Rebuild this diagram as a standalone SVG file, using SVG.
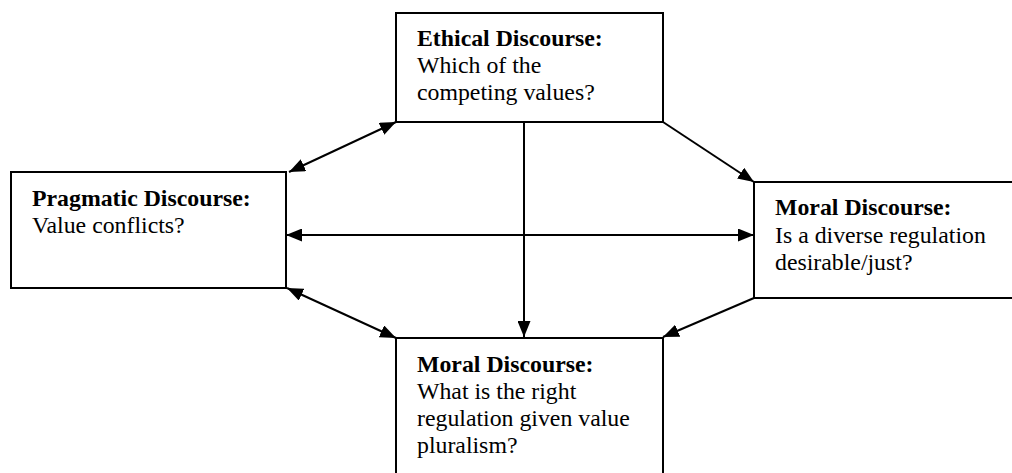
<svg xmlns="http://www.w3.org/2000/svg" width="1012" height="473" viewBox="0 0 1012 473">
<style>
.box{fill:#fff;stroke:#000;stroke-width:2}
.t{font-family:"Liberation Serif","Times New Roman",serif;font-size:23.8px;fill:#000}
.b{font-weight:bold}
.c{stroke:#000;stroke-width:2;fill:none}
</style>
<defs>
<marker id="ah" markerUnits="userSpaceOnUse" markerWidth="16" markerHeight="13" refX="16" refY="6.5" orient="auto-start-reverse">
<path d="M0,0 L16,6.5 L0,13 z" fill="#000"/>
</marker>
</defs>
<rect width="1012" height="473" fill="#fff"/>
<g id="connectors">
<line class="c" x1="289" y1="172" x2="396" y2="122" marker-start="url(#ah)" marker-end="url(#ah)"/>
<line class="c" x1="286" y1="235" x2="754" y2="235" marker-start="url(#ah)" marker-end="url(#ah)"/>
<line class="c" x1="524" y1="122" x2="524" y2="337" marker-end="url(#ah)"/>
<line class="c" x1="663" y1="122" x2="754" y2="182" marker-end="url(#ah)"/>
<line class="c" x1="287" y1="288" x2="396" y2="338" marker-start="url(#ah)" marker-end="url(#ah)"/>
<line class="c" x1="754" y1="298" x2="663" y2="337" marker-end="url(#ah)"/>
</g>
<g id="ethical">
<rect class="box" x="396" y="13" width="267" height="109"/>
<text class="t b" x="417" y="45.5">Ethical Discourse:</text>
<text class="t" x="417" y="73">Which of the</text>
<text class="t" x="417" y="100">competing values?</text>
</g>
<g id="pragmatic">
<rect class="box" x="11" y="172" width="275" height="116"/>
<text class="t b" x="32" y="205.5">Pragmatic Discourse:</text>
<text class="t" x="32" y="233">Value conflicts?</text>
</g>
<g id="moral-right">
<rect class="box" x="754" y="182" width="270" height="116"/>
<text class="t b" x="775" y="215">Moral Discourse:</text>
<text class="t" x="775" y="242.5">Is a diverse regulation</text>
<text class="t" x="775" y="270">desirable/just?</text>
</g>
<g id="moral-bottom">
<rect class="box" x="396" y="338" width="267" height="150"/>
<text class="t b" x="417" y="371.5">Moral Discourse:</text>
<text class="t" x="417" y="399">What is the right</text>
<text class="t" x="417" y="426">regulation given value</text>
<text class="t" x="417" y="453">pluralism?</text>
</g>
</svg>
